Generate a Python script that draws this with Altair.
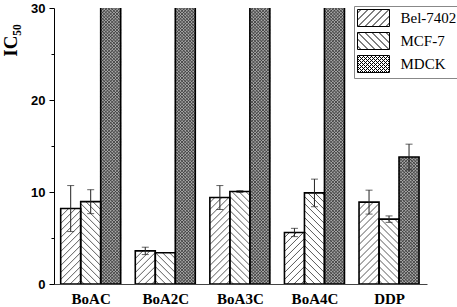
import altair as alt
import pandas as pd
import numpy as np

# ---------------- data ----------------
groups = ["BoAC", "BoA2C", "BoA3C", "BoA4C", "DDP"]
series = ["Bel-7402", "MCF-7", "MDCK"]
bel_vals = [8.2, 3.6, 9.4, 5.6, 8.9]
bel_err = [2.5, 0.4, 1.3, 0.45, 1.3]
mcf_vals = [8.95, 3.4, 10.05, 9.9, 7.05]
mcf_err = [1.3, 0.0, 0.1, 1.5, 0.35]
mdck_vals = [50, 50, 50, 50, 13.8]   # first four run off the top of the axis
mdck_err = [0, 0, 0, 0, 1.4]
y_ticks = [0, 5, 10, 15, 20, 25, 30]

# ---------------- layout / style constants ----------------
W, H = 373, 276
X_MIN, X_MAX = -0.492, 4.509
Y_MAX = 30
PXX = W / (X_MAX - X_MIN)
PXY = H / Y_MAX
BAR_PX = 20
HATCH_SP = 7
CHECK_SP = 3.2
MDCK_FILL = "#a6a6a6"
fills = {"Bel-7402": "white", "MCF-7": "white", "MDCK": MDCK_FILL}
hatch_kind = {"Bel-7402": "/", "MCF-7": "\\", "MDCK": "x"}


def hatch_lines(w, h, kind, sp):
    """Segments (local pixel coords, y upward) of a hatch inside a w x h box."""
    segs = []
    if kind in ("/", "x"):
        for c in np.arange(-w + sp / 2, h, sp):
            xs, xe = max(0, -c), min(w, h - c)
            if xe > xs:
                segs.append((xs, xs + c, xe, xe + c))
    if kind in ("\\", "x"):
        for c in np.arange(sp / 2, h + w, sp):
            xs, xe = max(0, c - h), min(w, c)
            if xe > xs:
                segs.append((xs, c - xs, xe, c - xe))
    return segs


vals = {"Bel-7402": bel_vals, "MCF-7": mcf_vals, "MDCK": mdck_vals}
errs = {"Bel-7402": bel_err, "MCF-7": mcf_err, "MDCK": mdck_err}

bar_rows, hatch_rows, err_rows = [], [], []
for gi, g in enumerate(groups):
    for si, s in enumerate(series):
        v = vals[s][gi]
        e = errs[s][gi]
        center = gi + (si - 1) * BAR_PX / PXX
        x0 = center - BAR_PX / 2 / PXX
        x1 = center + BAR_PX / 2 / PXX
        bar_rows.append(dict(group=g, series=s, value=v, base=0, x0=x0, x1=x1,
                             xc=center, fillc=fills[s]))
        if e > 0:
            err_rows.append(dict(xc=center, lo=v - e, hi=v + e))
        hpx = min(v, Y_MAX) * PXY
        sp = CHECK_SP if hatch_kind[s] == "x" else HATCH_SP
        for (ax, ay, bx, by) in hatch_lines(BAR_PX, hpx, hatch_kind[s], sp):
            hatch_rows.append(dict(kind="dense" if s == "MDCK" else "light",
                                   hx=x0 + ax / PXX, hy=ay / PXY,
                                   hx2=x0 + bx / PXX, hy2=by / PXY))

bars = pd.DataFrame(bar_rows)
hatch = pd.DataFrame(hatch_rows)
errdf = pd.DataFrame(err_rows)

# legend swatches as custom symbol paths (box + hatch), scale = sqrt(size)/2
SW, SH = 32, 17
unit = SH / 2.0


def swatch_path(kind, sp):
    hw, hh = SW / 2 / unit, SH / 2 / unit
    p = f"M{-hw:.3f},{-hh:.3f}H{hw:.3f}V{hh:.3f}H{-hw:.3f}Z"
    for (ax, ay, bx, by) in hatch_lines(SW, SH, kind, sp):
        p += (f"M{(ax - SW / 2) / unit:.3f},{-(ay - SH / 2) / unit:.3f}"
              f"L{(bx - SW / 2) / unit:.3f},{-(by - SH / 2) / unit:.3f}")
    return p


paths = [swatch_path("/", HATCH_SP), swatch_path("\\", HATCH_SP), swatch_path("x", 4.0)]

xscale = alt.Scale(domain=[X_MIN, X_MAX], nice=False, zero=False)
yscale = alt.Scale(domain=[0, Y_MAX], nice=False)

label_expr = "[" + ",".join(f"'{g}'" for g in groups) + "][datum.value]"

x_axis = alt.Axis(values=list(range(len(groups))), labelExpr=label_expr, title=None,
                  grid=False, ticks=False, tickSize=0, domainColor="#444", domainWidth=1,
                  labelFont="Liberation Serif", labelFontWeight="bold", labelFontSize=15,
                  labelColor="black", labelPadding=7)
y_axis = alt.Axis(values=y_ticks, title="IC₅₀", grid=False,
                  labelExpr="datum.value % 10 === 0 ? datum.label : ''",
                  tickSize={"condition": {"test": "datum.value % 10 === 0", "value": 5}, "value": 3},
                  tickColor="black", domainColor="black", domainWidth=1,
                  labelFont="Liberation Sans", labelFontWeight="bold", labelFontSize=13,
                  labelColor="black", labelPadding=4,
                  titleFont="Liberation Serif", titleFontWeight="bold", titleFontSize=19,
                  titleColor="black", titleAngle=270, titleAlign="center",
                  titleBaseline="middle", titleX=-44, titleY=32)

base_bars = alt.Chart(bars)

bar_fill = base_bars.mark_rect(clip=True, strokeWidth=0).encode(
    x=alt.X("x0:Q", scale=xscale, axis=x_axis),
    x2="x1:Q",
    y=alt.Y("value:Q", scale=yscale, axis=y_axis),
    y2="base:Q",
    fill=alt.Fill("fillc:N", scale=None),
)

hatch_light = alt.Chart(hatch).transform_filter("datum.kind == 'light'").mark_rule(
    clip=True, color="#5a5a5a", strokeWidth=1).encode(
    x=alt.X("hx:Q", scale=xscale), y=alt.Y("hy:Q", scale=yscale),
    x2="hx2:Q", y2="hy2:Q")

hatch_dense = alt.Chart(hatch).transform_filter("datum.kind == 'dense'").mark_rule(
    clip=True, color="#3c3c3c", strokeWidth=0.9).encode(
    x=alt.X("hx:Q", scale=xscale), y=alt.Y("hy:Q", scale=yscale),
    x2="hx2:Q", y2="hy2:Q")

bar_outline = base_bars.mark_rect(clip=True, fillOpacity=0, stroke="black", strokeWidth=1.6).encode(
    x=alt.X("x0:Q", scale=xscale), x2="x1:Q",
    y=alt.Y("value:Q", scale=yscale), y2="base:Q",
)

err_rule = alt.Chart(errdf).mark_rule(color="#222", strokeWidth=1).encode(
    x=alt.X("xc:Q", scale=xscale), y=alt.Y("lo:Q", scale=yscale), y2="hi:Q")
cap_hi = alt.Chart(errdf).mark_tick(orient="horizontal", size=7, thickness=1, color="#222").encode(
    x=alt.X("xc:Q", scale=xscale), y=alt.Y("hi:Q", scale=yscale))
cap_lo = alt.Chart(errdf).mark_tick(orient="horizontal", size=7, thickness=1, color="#222").encode(
    x=alt.X("xc:Q", scale=xscale), y=alt.Y("lo:Q", scale=yscale))

leg = alt.Legend(title=None, orient="none", legendX=300, legendY=-2,
                 symbolSize=SH * SH, symbolStrokeWidth=1,
                 symbolOpacity=1, symbolOffset=(SW - SH) / 2,
                 labelOffset=(SW - SH) + 3,
                 labelFont="Liberation Serif", labelFontSize=15, labelColor="black",
                 rowPadding=1, padding=3, strokeColor="#888", fillColor="white")

legend_layer = base_bars.mark_point(filled=False, opacity=0, clip=True, color="black",
                                    strokeWidth=1).encode(
    x=alt.X("xc:Q", scale=xscale), y=alt.Y("value:Q", scale=yscale),
    shape=alt.Shape("series:N", scale=alt.Scale(domain=series, range=paths), legend=leg),
)

chart = alt.layer(bar_fill, hatch_light, hatch_dense, bar_outline, err_rule, cap_hi, cap_lo,
                  legend_layer).properties(
    width=W, height=H,
    autosize=alt.AutoSizeParams(type="none"),
    padding={"left": 54, "top": 8, "right": 30, "bottom": 23},
    background="white",
).configure_view(stroke=None).configure_legend(
    labelFont="Liberation Serif", labelFontSize=15, labelColor="black")

chart.save("out.html", embed_options={"renderer": "svg", "actions": False})
